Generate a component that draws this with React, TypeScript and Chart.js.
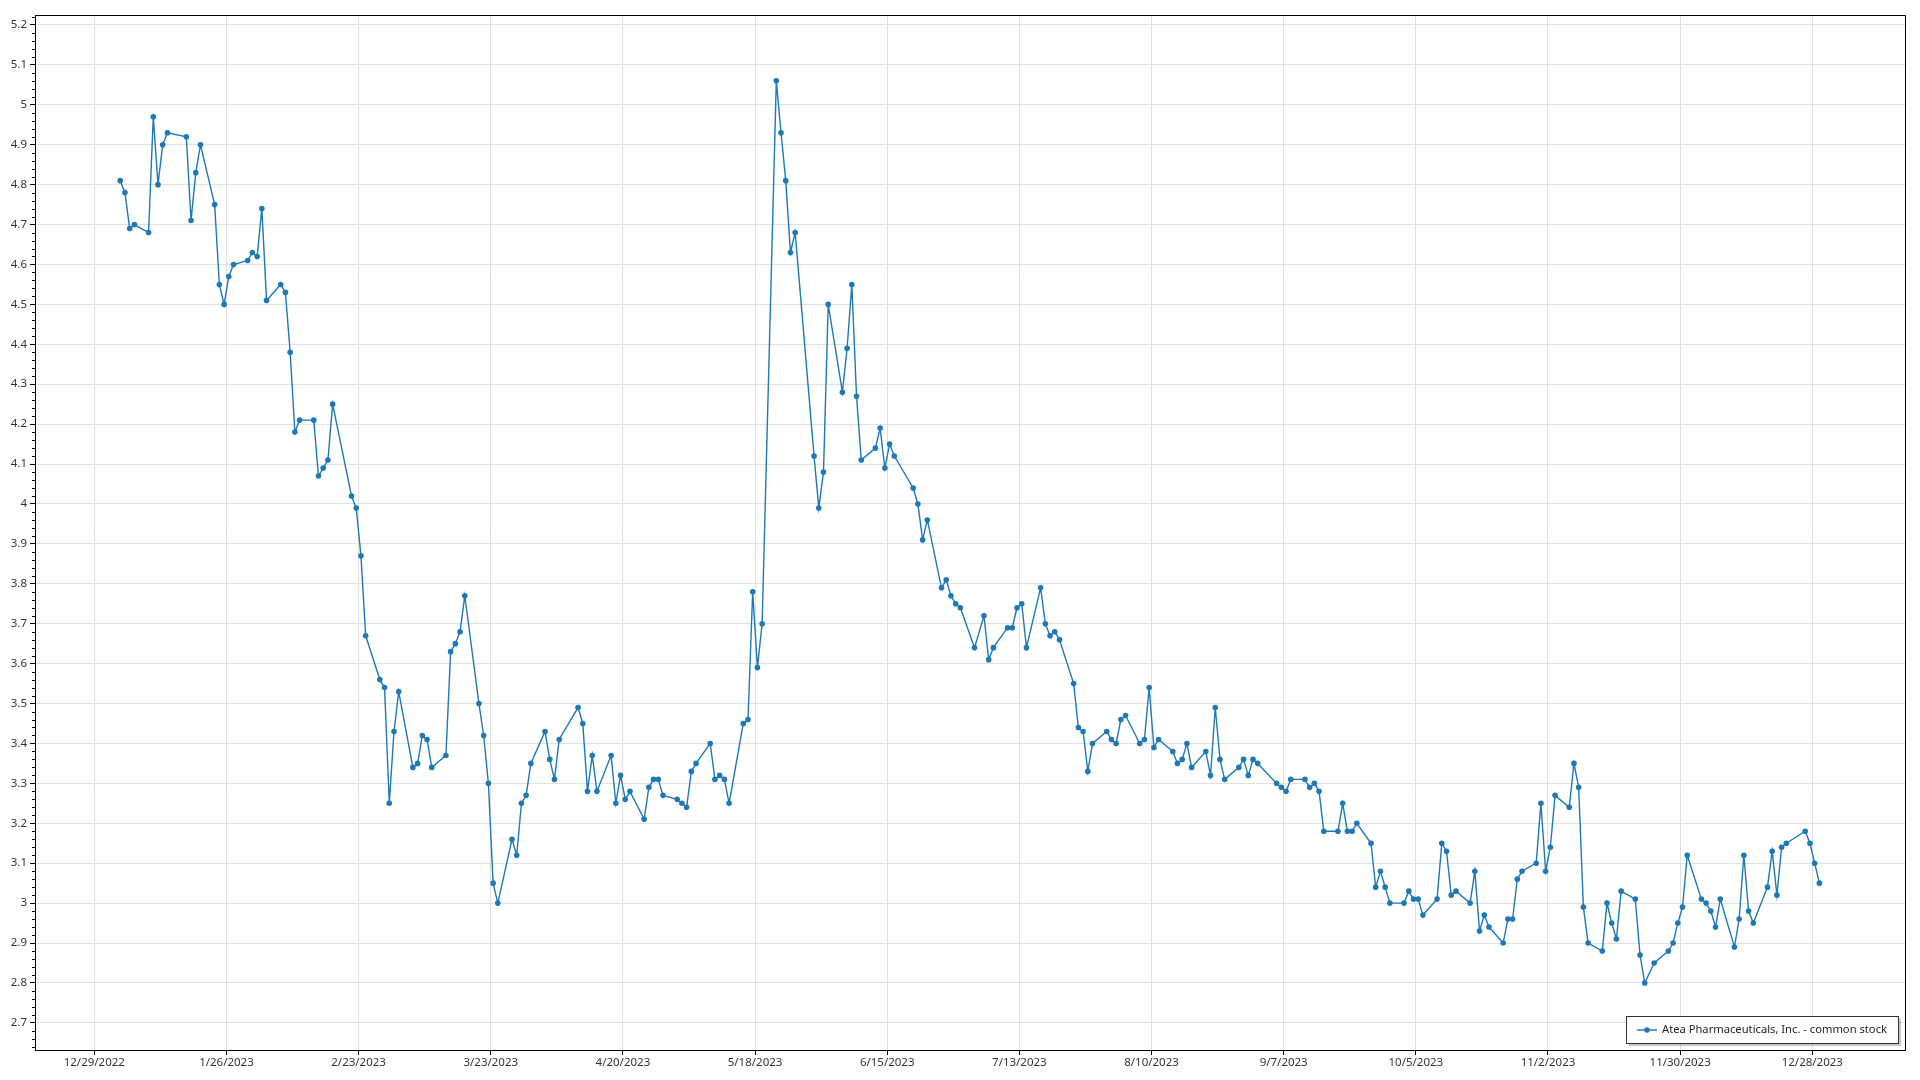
import React, { useEffect, useRef } from "react";
import { Chart, registerables } from "chart.js";

Chart.register(...registerables);

const seriesName = "Atea Pharmaceuticals, Inc. - common stock";
const dataYear = 2023;

// trading days (day of month) and closing prices per month of 2023
const janDays = [3, 4, 5, 6, 9, 10, 11, 12, 13, 17, 18, 19, 20, 23, 24, 25, 26, 27, 30, 31];
const janValues = [4.81, 4.78, 4.69, 4.7, 4.68, 4.97, 4.8, 4.9, 4.93, 4.92, 4.71, 4.83, 4.9, 4.75, 4.55, 4.5, 4.57, 4.6, 4.61, 4.63];
const febDays = [1, 2, 3, 6, 7, 8, 9, 10, 13, 14, 15, 16, 17, 21, 22, 23, 24, 27, 28];
const febValues = [4.62, 4.74, 4.51, 4.55, 4.53, 4.38, 4.18, 4.21, 4.21, 4.07, 4.09, 4.11, 4.25, 4.02, 3.99, 3.87, 3.67, 3.56, 3.54];
const marDays = [1, 2, 3, 6, 7, 8, 9, 10, 13, 14, 15, 16, 17, 20, 21, 22, 23, 24, 27, 28, 29, 30, 31];
const marValues = [3.25, 3.43, 3.53, 3.34, 3.35, 3.42, 3.41, 3.34, 3.37, 3.63, 3.65, 3.68, 3.77, 3.5, 3.42, 3.3, 3.05, 3.0, 3.16, 3.12, 3.25, 3.27, 3.35];
const aprDays = [3, 4, 5, 6, 10, 11, 12, 13, 14, 17, 18, 19, 20, 21, 24, 25, 26, 27, 28];
const aprValues = [3.43, 3.36, 3.31, 3.41, 3.49, 3.45, 3.28, 3.37, 3.28, 3.37, 3.25, 3.32, 3.26, 3.28, 3.21, 3.29, 3.31, 3.31, 3.27];
const mayDays = [1, 2, 3, 4, 5, 8, 9, 10, 11, 12, 15, 16, 17, 18, 19, 22, 23, 24, 25, 26, 30, 31];
const mayValues = [3.26, 3.25, 3.24, 3.33, 3.35, 3.4, 3.31, 3.32, 3.31, 3.25, 3.45, 3.46, 3.78, 3.59, 3.7, 5.06, 4.93, 4.81, 4.63, 4.68, 4.12, 3.99];
const junDays = [1, 2, 5, 6, 7, 8, 9, 12, 13, 14, 15, 16, 20, 21, 22, 23, 26, 27, 28, 29, 30];
const junValues = [4.08, 4.5, 4.28, 4.39, 4.55, 4.27, 4.11, 4.14, 4.19, 4.09, 4.15, 4.12, 4.04, 4.0, 3.91, 3.96, 3.79, 3.81, 3.77, 3.75, 3.74];
const julDays = [3, 5, 6, 7, 10, 11, 12, 13, 14, 17, 18, 19, 20, 21, 24, 25, 26, 27, 28, 31];
const julValues = [3.64, 3.72, 3.61, 3.64, 3.69, 3.69, 3.74, 3.75, 3.64, 3.79, 3.7, 3.67, 3.68, 3.66, 3.55, 3.44, 3.43, 3.33, 3.4, 3.43];
const augDays = [1, 2, 3, 4, 7, 8, 9, 10, 11, 14, 15, 16, 17, 18, 21, 22, 23, 24, 25, 28, 29, 30, 31];
const augValues = [3.41, 3.4, 3.46, 3.47, 3.4, 3.41, 3.54, 3.39, 3.41, 3.38, 3.35, 3.36, 3.4, 3.34, 3.38, 3.32, 3.49, 3.36, 3.31, 3.34, 3.36, 3.32, 3.36];
const sepDays = [1, 5, 6, 7, 8, 11, 12, 13, 14, 15, 18, 19, 20, 21, 22, 25, 26, 27, 28, 29];
const sepValues = [3.35, 3.3, 3.29, 3.28, 3.31, 3.31, 3.29, 3.3, 3.28, 3.18, 3.18, 3.25, 3.18, 3.18, 3.2, 3.15, 3.04, 3.08, 3.04, 3.0];
const octDays = [2, 3, 4, 5, 6, 9, 10, 11, 12, 13, 16, 17, 18, 19, 20, 23, 24, 25, 26, 27, 30, 31];
const octValues = [3.0, 3.03, 3.01, 3.01, 2.97, 3.01, 3.15, 3.13, 3.02, 3.03, 3.0, 3.08, 2.93, 2.97, 2.94, 2.9, 2.96, 2.96, 3.06, 3.08, 3.1, 3.25];
const novDays = [1, 2, 3, 6, 7, 8, 9, 10, 13, 14, 15, 16, 17, 20, 21, 22, 24, 27, 28, 29, 30];
const novValues = [3.08, 3.14, 3.27, 3.24, 3.35, 3.29, 2.99, 2.9, 2.88, 3.0, 2.95, 2.91, 3.03, 3.01, 2.87, 2.8, 2.85, 2.88, 2.9, 2.95, 2.99];
const decDays = [1, 4, 5, 6, 7, 8, 11, 12, 13, 14, 15, 18, 19, 20, 21, 22, 26, 27, 28, 29];
const decValues = [3.12, 3.01, 3.0, 2.98, 2.94, 3.01, 2.89, 2.96, 3.12, 2.98, 2.95, 3.04, 3.13, 3.02, 3.14, 3.15, 3.18, 3.15, 3.1, 3.05];

const monthDays = [janDays, febDays, marDays, aprDays, mayDays, junDays, julDays, augDays, sepDays, octDays, novDays, decDays];
const monthValues = [janValues, febValues, marValues, aprValues, mayValues, junValues, julValues, augValues, sepValues, octValues, novValues, decValues];

const xTickLabels = [
  "12/29/2022", "1/26/2023", "2/23/2023", "3/23/2023", "4/20/2023", "5/18/2023", "6/15/2023",
  "7/13/2023", "8/10/2023", "9/7/2023", "10/5/2023", "11/2/2023", "11/30/2023", "12/28/2023",
];
const yTickValues = [2.7, 2.8, 2.9, 3.0, 3.1, 3.2, 3.3, 3.4, 3.5, 3.6, 3.7, 3.8, 3.9, 4.0, 4.1, 4.2, 4.3, 4.4, 4.5, 4.6, 4.7, 4.8, 4.9, 5.0, 5.1, 5.2];

const DAY = 86400000;
const baseUTC = Date.UTC(2022, 11, 29);
const toDayNum = (y: number, m: number, d: number) => (Date.UTC(y, m - 1, d) - baseUTC) / DAY;
const parseLabel = (s: string) => {
  const [m, d, y] = s.split("/").map(Number);
  return toDayNum(y, m, d);
};

const points: { x: number; y: number }[] = [];
monthDays.forEach((days, mi) => {
  days.forEach((d, i) => {
    points.push({ x: toDayNum(dataYear, mi + 1, d) + 0.5, y: monthValues[mi][i] });
  });
});

const xTickDays = xTickLabels.map(parseLabel);

const FONT = "'Noto Sans', 'Open Sans', sans-serif";
const LINE_COLOR = "#1f77b4";

const framePlugin = {
  id: "frame",
  afterDraw(chart: any) {
    const { ctx, chartArea } = chart;
    const { left, right, top, bottom } = chartArea;
    ctx.save();
    // minor ticks on the y axis
    const ys = chart.scales.y;
    ctx.strokeStyle = "#000";
    ctx.lineWidth = 1;
    ctx.beginPath();
    for (let i = 0; i < yTickValues.length + 1; i++) {
      const base = (yTickValues[0] - 0.1) + i * 0.1;
      for (let k = 1; k < 5; k++) {
        const v = base + k * 0.02;
        if (v < ys.min || v > ys.max) continue;
        const py = Math.round(ys.getPixelForValue(v)) + 0.5;
        ctx.moveTo(left - 3, py);
        ctx.lineTo(left, py);
      }
    }
    ctx.stroke();
    // plot border
    ctx.strokeStyle = "#000";
    ctx.lineWidth = 1;
    ctx.strokeRect(Math.round(left) + 0.5, Math.round(top) + 0.5, Math.round(right - left), Math.round(bottom - top));

    // legend
    const bx = 1626, by = 1016, bw = 272, bh = 27;
    ctx.fillStyle = "rgba(0,0,0,0.22)";
    ctx.fillRect(bx + 3, by + 3, bw, bh);
    ctx.fillStyle = "#fff";
    ctx.fillRect(bx, by, bw, bh);
    ctx.strokeStyle = "#333";
    ctx.lineWidth = 1;
    ctx.strokeRect(bx + 0.5, by + 0.5, bw, bh);
    const cy = by + bh / 2 + 0.5;
    ctx.strokeStyle = LINE_COLOR;
    ctx.lineWidth = 1.4;
    ctx.beginPath();
    ctx.moveTo(bx + 11, cy);
    ctx.lineTo(bx + 31, cy);
    ctx.stroke();
    ctx.fillStyle = LINE_COLOR;
    ctx.beginPath();
    ctx.arc(bx + 21, cy, 2.8, 0, Math.PI * 2);
    ctx.fill();
    ctx.fillStyle = "#222";
    ctx.font = `11.2px ${FONT}`;
    ctx.textBaseline = "middle";
    ctx.textAlign = "left";
    ctx.fillText(seriesName, bx + 36, cy);
    ctx.restore();
  },
};

export default function App() {
  const ref = useRef<HTMLCanvasElement | null>(null);
  useEffect(() => {
    document.body.style.margin = "0";
    const canvas = ref.current;
    if (!canvas) return;
    const chart = new Chart(canvas, {
      type: "line",
      data: {
        datasets: [
          {
            label: seriesName,
            data: points,
            borderColor: LINE_COLOR,
            backgroundColor: LINE_COLOR,
            borderWidth: 1.4,
            pointRadius: 2.8,
            pointBorderWidth: 0,
            pointBackgroundColor: LINE_COLOR,
            tension: 0,
          },
        ],
      },
      options: {
        responsive: false,
        animation: false,
        events: [],
        layout: { padding: { top: 15, right: 15, left: 0, bottom: 0 } },
        plugins: { legend: { display: false }, tooltip: { enabled: false } },
        scales: {
          x: {
            type: "linear",
            min: -12.56,
            max: 383.64,
            afterBuildTicks: (s: any) => {
              s.ticks = xTickDays.map((v) => ({ value: v }));
            },
            afterFit: (s: any) => {
              s.height = 30;
            },
            grid: { color: "#e0e0e0", tickColor: "#000", tickLength: 5 },
            border: { color: "#000" },
            ticks: {
              autoSkip: false,
              maxRotation: 0,
              padding: 1,
              color: "#333",
              font: { family: FONT, size: 11.5 },
              callback: (_v: any, i: number) => xTickLabels[i],
            },
          },
          y: {
            type: "linear",
            min: 2.632,
            max: 5.225,
            afterBuildTicks: (s: any) => {
              s.ticks = yTickValues.map((v) => ({ value: v }));
            },
            afterFit: (s: any) => {
              s.width = 35;
            },
            grid: { color: "#e0e0e0", tickColor: "#000", tickLength: 5 },
            border: { color: "#000" },
            ticks: {
              padding: 3,
              color: "#333",
              font: { family: FONT, size: 11.5 },
              callback: (v: any) => String(Number(Number(v).toFixed(1))),
            },
          },
        },
      },
      plugins: [framePlugin],
    });
    return () => chart.destroy();
  }, []);
  return (
    <div style={{ position: "fixed", left: 0, top: 0, width: 1920, height: 1080, background: "#fff" }}>
      <canvas ref={ref} width={1920} height={1080} style={{ width: 1920, height: 1080, display: "block" }} />
    </div>
  );
}
